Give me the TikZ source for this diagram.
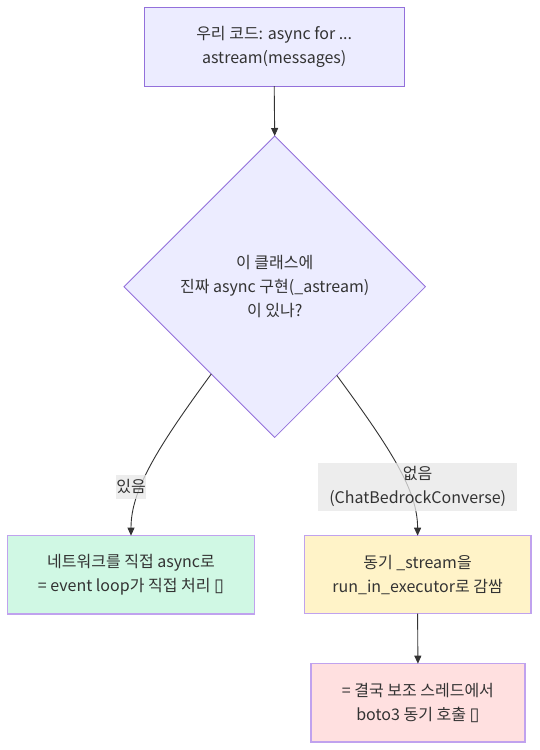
\documentclass[tikz,border=0pt]{standalone}
\usepackage{fontspec}
\setmainfont{Noto Sans CJK KR}
\newfontfamily\dejavu{DejaVu Sans}
\usetikzlibrary{shapes.geometric,arrows.meta}
\definecolor{topfill}{HTML}{ECECFF}
\definecolor{topline}{HTML}{9370DB}
\definecolor{boxline}{HTML}{C0A2EE}
\definecolor{greenfill}{HTML}{D0F8E4}
\definecolor{yellowfill}{HTML}{FFF3C8}
\definecolor{pinkfill}{HTML}{FFE0E0}
\definecolor{labelfill}{HTML}{E8E8E8}
\definecolor{ink}{HTML}{333333}
\newcommand{\tofu}{{\dejavu\fontsize{18}{24}\selectfont ▯}}
\begin{document}
\begin{tikzpicture}[x=1pt,y=-1pt,
  every node/.style={font=\fontsize{16}{24}\selectfont, text=ink, align=center, inner sep=0pt, outer sep=0pt},
  plainbox/.style={draw=topline, fill=topfill, line width=0.8pt},
  colbox/.style={draw=boxline, line width=1.5pt},
  edgelabel/.style={fill=labelfill, fill opacity=0.75, text opacity=1},
  conn/.style={draw=ink, line width=0.9pt, -{Triangle[length=8pt,width=7pt]}}
]
\useasboundingbox (0,0) rectangle (539,750);
\fill[white] (0,0) rectangle (539,750);

\node[plainbox, minimum width=260.3pt, minimum height=78.7pt] (top) at (274.2,46.7)
  {우리 코드: async for ...\\astream(messages)};
\node[plainbox, diamond, aspect=1, minimum width=301.4pt, minimum height=301.4pt] (dia) at (274.7,286.7)
  {이 클래스에\\진짜 async 구현(\_astream)\\이 있나?};
\node[colbox, fill=greenfill, minimum width=246.6pt, minimum height=78.3pt] (green) at (131,574.8)
  {네트워크를 직접 async로\\= event loop가 직접 처리 \tofu};
\node[colbox, fill=yellowfill, minimum width=226.7pt, minimum height=78pt] (yellow) at (417.6,574.7)
  {동기 \_stream을\\run\_in\_executor로 감쌈};
\node[colbox, fill=pinkfill, minimum width=213.7pt, minimum height=78.3pt] (pink) at (417.9,702.8)
  {= 결국 보조 스레드에서\\boto3 동기 호출 \tofu};

\draw[conn] (top.south) -- (dia.north);
\draw[conn] (dia.234.6) .. controls +(-55,75) and +(0,-45) .. (green.north);
\draw[conn] (dia.305.5) .. controls +(55,75) and +(0,-45) .. (yellow.north);
\draw[conn] (yellow.south) -- (pink.north);

\node[edgelabel, minimum width=29.7pt, minimum height=24pt] (lyes) at (131,486.7) {있음};
\node[edgelabel, minimum width=199.3pt, minimum height=47.7pt] (lno) at (417.7,486.8)
  {없음\\(ChatBedrockConverse)};
\end{tikzpicture}
\end{document}
